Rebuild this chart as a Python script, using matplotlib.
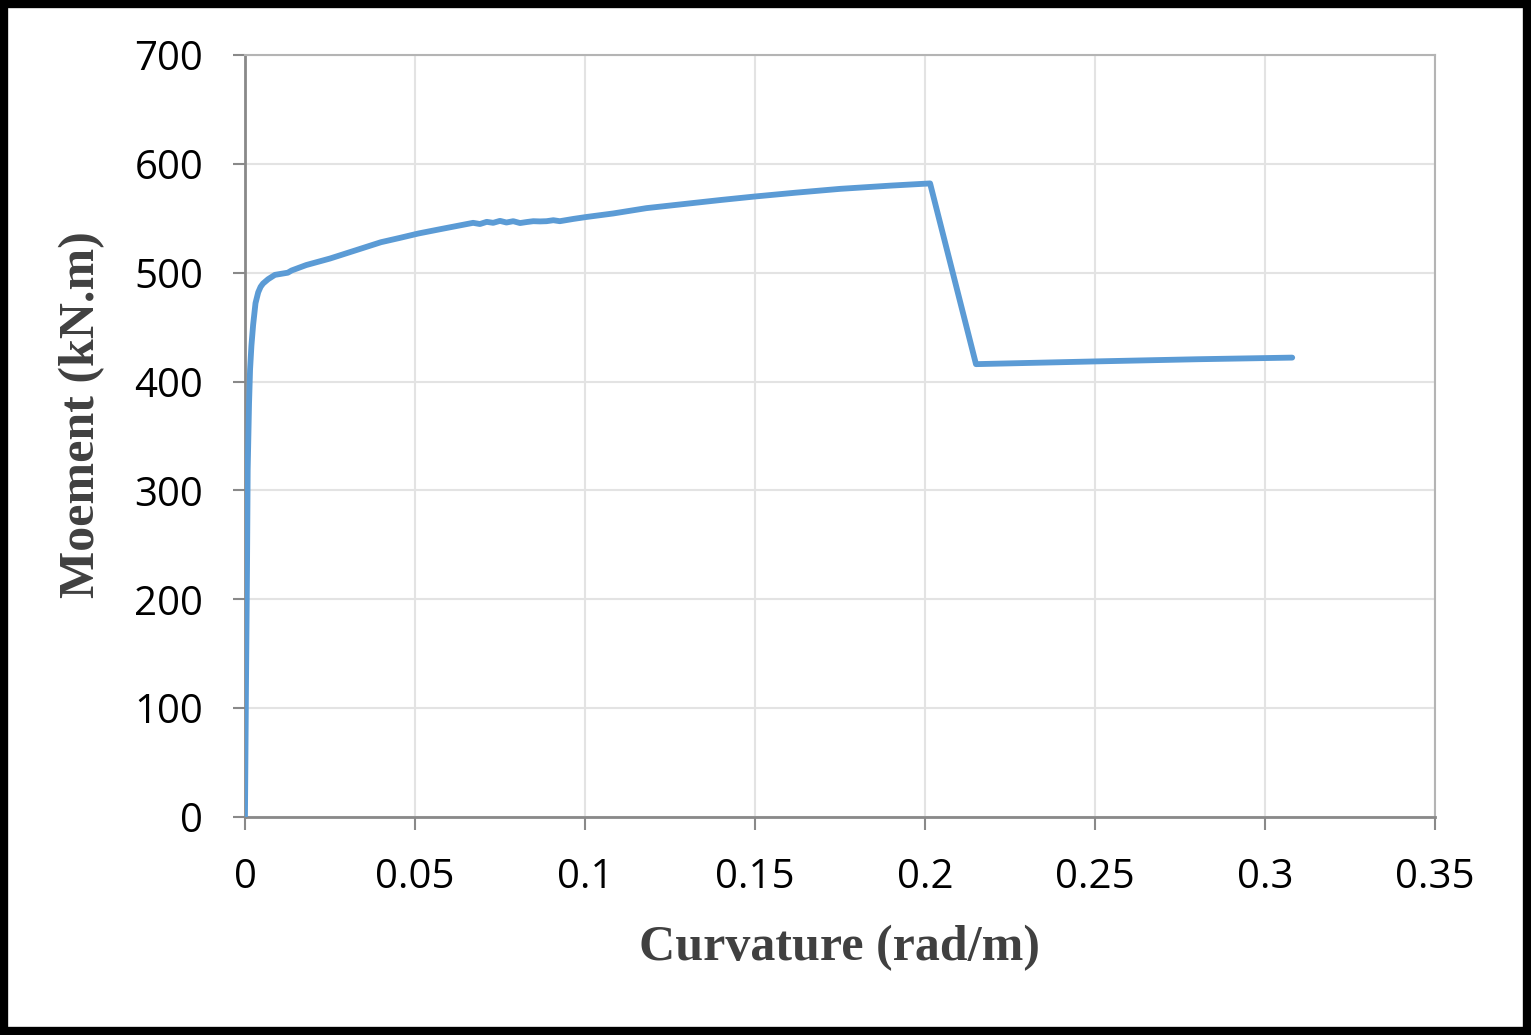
import matplotlib.pyplot as plt
from matplotlib.patches import Rectangle

# Moment-curvature data
curvature = [0.0, 0.0003, 0.0006, 0.0008, 0.0012, 0.0015, 0.0019, 0.0024, 0.0031,
             0.0039, 0.0046, 0.0053, 0.0068, 0.0088, 0.0126, 0.0137, 0.018, 0.025,
             0.032, 0.040, 0.0456, 0.051, 0.057, 0.0671, 0.0691, 0.0711, 0.073,
             0.075, 0.0769, 0.0789, 0.0809, 0.0828, 0.0848, 0.0868, 0.0887, 0.0907,
             0.0926, 0.0966, 0.1005, 0.1083, 0.1181, 0.128, 0.14, 0.15, 0.162,
             0.175, 0.19, 0.2015, 0.215, 0.25, 0.28, 0.308]
moment = [0, 120, 227, 319, 380, 411, 433, 452, 472,
          482, 487, 490, 494, 498, 500, 502, 507, 513,
          520, 528, 532, 536, 539.7, 545.8, 544.7, 546.7, 545.8,
          547.6, 546.1, 547.3, 545.6, 546.5, 547.3, 547.1, 547.3, 548.2,
          547.3, 549.4, 551.2, 554.4, 559.3, 562.7, 566.8, 570, 573.5,
          577, 580, 582, 416, 418.5, 420.5, 422]

xticks = [0, 0.05, 0.1, 0.15, 0.2, 0.25, 0.3, 0.35]
xticklabels = ['0', '0.05', '0.1', '0.15', '0.2', '0.25', '0.3', '0.35']
yticks = [0, 100, 200, 300, 400, 500, 600, 700]

fig = plt.figure(figsize=(15.31, 10.35), dpi=100)
ax = fig.add_axes([0.16, 0.2106, 0.7773, 0.7363])

ax.plot(curvature, moment, color='#5B9BD5', linewidth=4.2, solid_joinstyle='round',
        solid_capstyle='round', zorder=3)

ax.set_xlim(0, 0.35)
ax.set_ylim(0, 700)
ax.set_xticks(xticks)
ax.set_xticklabels(xticklabels)
ax.set_yticks(yticks)
ax.grid(True, color='#e3e3e3', linewidth=1.5)
ax.set_axisbelow(True)

for side in ['left', 'bottom']:
    ax.spines[side].set_color('#898989')
    ax.spines[side].set_linewidth(2)
for side in ['top', 'right']:
    ax.spines[side].set_color('#b4b4b4')
    ax.spines[side].set_linewidth(1.5)

ax.tick_params(axis='both', direction='out', length=9, width=1.5, color='#898989',
               labelsize=29, labelcolor='#000000')
ax.tick_params(axis='y', pad=21)
ax.tick_params(axis='x', pad=20)
for lab in ax.get_xticklabels() + ax.get_yticklabels():
    lab.set_fontfamily('Open Sans')

ax.set_xlabel('Curvature (rad/m)', fontsize=36, fontweight='bold',
              fontfamily='Liberation Serif', color='#404040')
ax.set_ylabel('Moement (kN.m)', fontsize=36, fontweight='bold',
              fontfamily='Liberation Serif', color='#404040')
ax.xaxis.set_label_coords(0.5, -0.1417)
ax.yaxis.set_label_coords(-0.1176, 0.5276)

# black frame around the whole picture
fig.patches.append(Rectangle((0.0026, 0.0039), 0.9948, 0.9922, transform=fig.transFigure,
                             fill=False, edgecolor='black', linewidth=6))

fig.savefig('out.png', dpi=100)
